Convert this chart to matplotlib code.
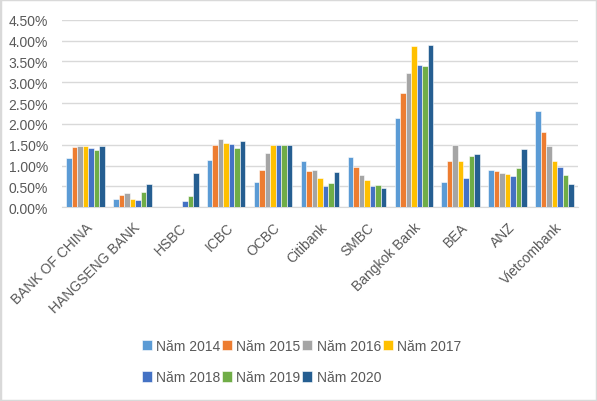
import numpy as np
import matplotlib
matplotlib.use("Agg")
import matplotlib.pyplot as plt
from matplotlib.patches import Rectangle
from matplotlib.ticker import PercentFormatter

plt.rcParams['font.family'] = ['Liberation Sans', 'DejaVu Sans']

banks = ["BANK OF CHINA", "HANGSENG BANK", "HSBC", "ICBC", "OCBC", "Citibank",
         "SMBC", "Bangkok Bank", "BEA", "ANZ", "Vietcombank"]
years = ["Năm 2014", "Năm 2015", "Năm 2016", "Năm 2017", "Năm 2018", "Năm 2019", "Năm 2020"]

# ratio in percent, one list per year (bank order as above)
y2014 = [1.17, 0.20, 0.00, 1.13, 0.61, 1.10, 1.20, 2.14, 0.61, 0.90, 2.31]
y2015 = [1.44, 0.30, 0.00, 1.50, 0.90, 0.86, 0.97, 2.73, 1.10, 0.86, 1.80]
y2016 = [1.46, 0.33, 0.00, 1.63, 1.31, 0.90, 0.78, 3.21, 1.50, 0.82, 1.46]
y2017 = [1.46, 0.20, 0.00, 1.54, 1.50, 0.69, 0.65, 3.86, 1.10, 0.80, 1.11]
y2018 = [1.41, 0.18, 0.16, 1.52, 1.50, 0.52, 0.52, 3.42, 0.71, 0.75, 0.96]
y2019 = [1.37, 0.37, 0.26, 1.43, 1.50, 0.58, 0.54, 3.40, 1.22, 0.94, 0.78]
y2020 = [1.46, 0.56, 0.82, 1.58, 1.50, 0.84, 0.46, 3.89, 1.27, 1.39, 0.56]
series = [y2014, y2015, y2016, y2017, y2018, y2019, y2020]

colors = ["#5B9BD5", "#ED7D31", "#A5A5A5", "#FFC000", "#4472C4", "#70AD47", "#255E91"]

fig = plt.figure(figsize=(5.97, 4.02), dpi=100)
ax = fig.add_axes([0.104, 0.482, 0.864, 0.4665])

x = np.arange(len(banks))
group = 0.82
w = group / len(series)
handles = []
for i, vals in enumerate(series):
    b = ax.bar(x - group / 2 + w * (i + 0.5), vals, width=w, color=colors[i],
               edgecolor="white", linewidth=0.4, label=years[i], zorder=3)
    handles.append(b)

ax.set_xlim(-0.5, len(banks) - 0.5)
ax.set_ylim(0, 4.5)
ax.set_yticks(np.arange(0, 4.51, 0.5))
ax.yaxis.set_major_formatter(PercentFormatter(decimals=2))
ax.grid(axis="y", color="#d9d9d9", linewidth=1, zorder=0)
ax.set_axisbelow(True)
for s in ["left", "right", "top"]:
    ax.spines[s].set_visible(False)
ax.spines["bottom"].set_color("#d9d9d9")
ax.tick_params(axis="y", length=0, pad=10, labelsize=10, labelcolor="#595959")
ax.tick_params(axis="x", length=0, pad=9, labelsize=10, labelcolor="#595959")
ax.set_xticks(x)
ax.set_xticklabels(banks, rotation=45, ha="right", rotation_mode="anchor")

order = [0, 4, 1, 5, 2, 6, 3]
leg = fig.legend([handles[k] for k in order], [years[k] for k in order], ncol=4,
                 loc="center", bbox_to_anchor=(0.505, 0.098), frameon=False,
                 fontsize=10, handlelength=0.75, handleheight=0.75, handletextpad=0.3,
                 columnspacing=0.1, labelspacing=1.25)
for t in leg.get_texts():
    t.set_color("#595959")

fig.patches.append(Rectangle((0, 0), 1, 1, transform=fig.transFigure, fill=False,
                             edgecolor="#d9d9d9", linewidth=2.5))

fig.savefig("out.png", dpi=100)
